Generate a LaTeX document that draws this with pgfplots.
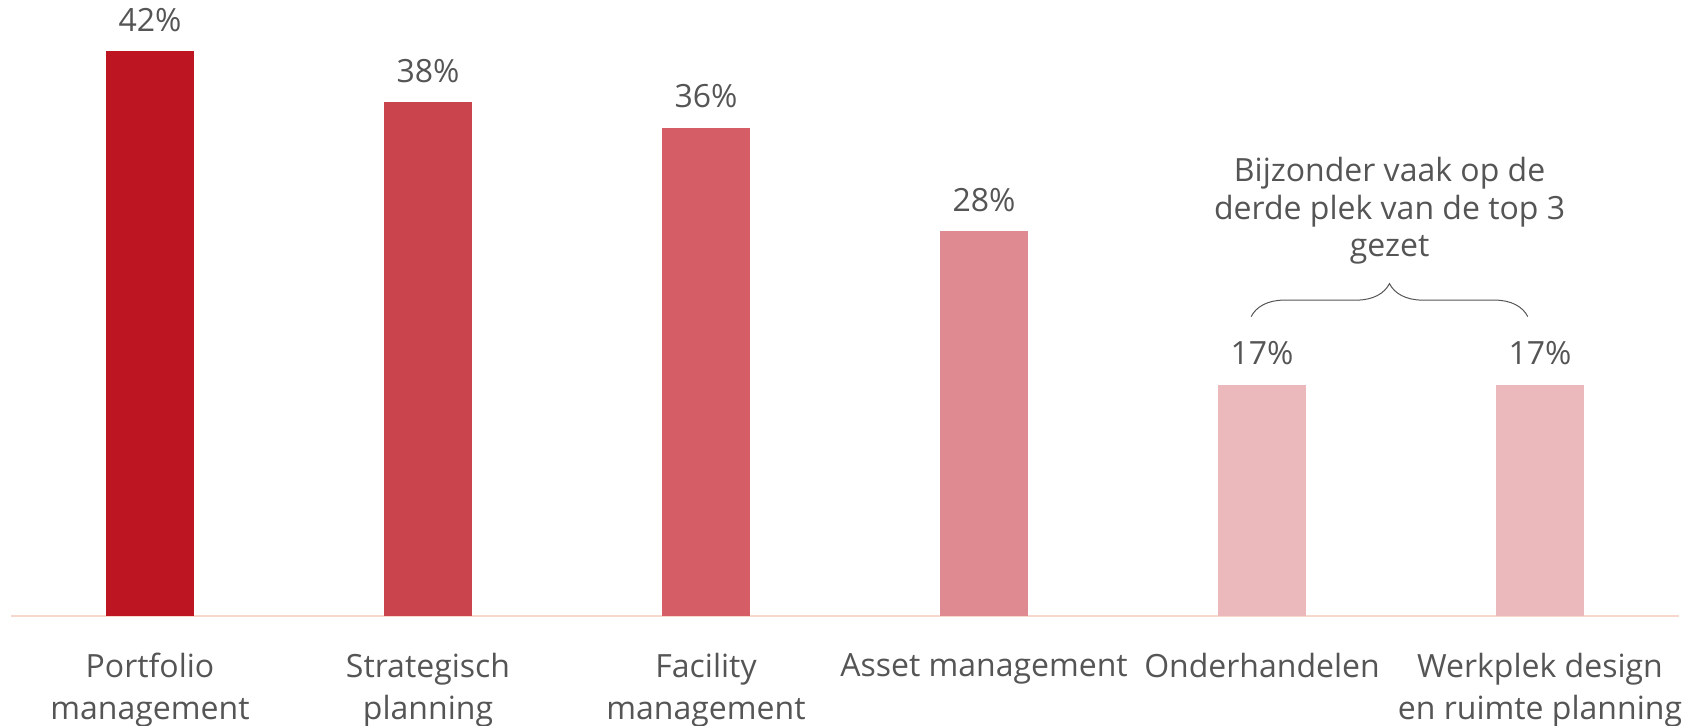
\documentclass[border=0pt]{standalone}
\usepackage{fontspec}
\setmainfont{Open Sans}
\usepackage{pgfplots}
\pgfplotsset{compat=1.18}
\usetikzlibrary{decorations.pathreplacing}
\definecolor{c1}{HTML}{BD1622}
\definecolor{c2}{HTML}{C9444D}
\definecolor{c3}{HTML}{D45D66}
\definecolor{c4}{HTML}{DF8990}
\definecolor{c5}{HTML}{EBB8BB}
\definecolor{txt}{HTML}{555555}
\definecolor{axc}{HTML}{F6D9CC}
\newcommand{\lbl}{\fontsize{16}{21}\selectfont}
\begin{document}
\begin{tikzpicture}
\begin{axis}[
  scale only axis, width=834pt, height=308pt,
  xmin=-0.5, xmax=5.5, ymin=0, ymax=45.8,
  axis y line=none, axis x line=bottom,
  x axis line style={-, draw=axc, line width=1pt},
  xtick={0,1,2,3,4,5},
  xticklabels={{Portfolio\\management},{Strategisch\\planning},{Facility\\management},{Asset management},{Onderhandelen},{Werkplek design\\en ruimte planning}},
  major tick length=0pt, xtick style={draw=none},
  xticklabel style={align=center, font=\lbl, text=txt, anchor=north, inner sep=0pt, yshift=-18.5pt},
  ybar, bar width=44pt, bar shift=0pt,
  point meta=explicit symbolic,
  nodes near coords={\pgfplotspointmeta\%},
  every node near coord/.append style={font=\lbl, text=txt, anchor=base, inner sep=0pt, yshift=10pt},
  clip=false,
]
\addplot[fill=c1, draw=none] coordinates {(0,42) [42]};
\addplot[fill=c2, draw=none] coordinates {(1,38.2) [38]};
\addplot[fill=c3, draw=none] coordinates {(2,36.3) [36]};
\addplot[fill=c4, draw=none] coordinates {(3,28.6) [28]};
\addplot[fill=c5, draw=none] coordinates {(4,17.2) [17]};
\addplot[fill=c5, draw=none] coordinates {(5,17.2) [17]};
\draw[decorate, decoration={brace, amplitude=16.5pt, aspect=0.5}, draw=txt, line width=0.5pt] (axis cs:3.961,22.26) -- (axis cs:4.956,22.26);
\node[anchor=base, font=\lbl, text=txt, inner sep=0pt] at (axis cs:4.459,32.3) {Bijzonder vaak op de};
\node[anchor=base, font=\lbl, text=txt, inner sep=0pt] at (axis cs:4.459,29.5) {derde plek van de top 3};
\node[anchor=base, font=\lbl, text=txt, inner sep=0pt] at (axis cs:4.459,26.7) {gezet};
\end{axis}
\pgfresetboundingbox
\path (-5.5pt,-54.5pt) rectangle (840.5pt,308pt);
\end{tikzpicture}
\end{document}
